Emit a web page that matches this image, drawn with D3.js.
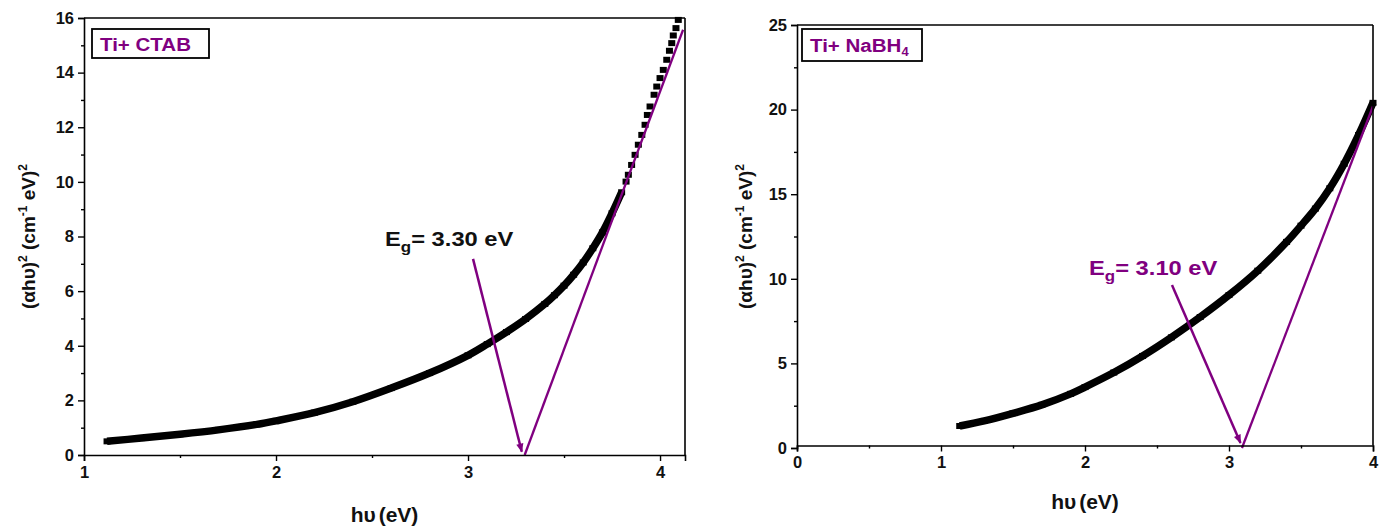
<!DOCTYPE html>
<html><head><meta charset="utf-8">
<script src="https://cdn.jsdelivr.net/npm/d3@7"></script>
<style>
body{margin:0;background:#fff;}
svg text{font-family:"Liberation Sans",Arial,sans-serif;font-weight:bold;}
</style></head>
<body>
<svg id="chart" width="1393" height="531"></svg>
<script>
// ---- data ----
const ctabX = [1.12,1.3,1.5,1.7,1.9,2.0,2.2,2.4,2.6,2.8,3.0,3.1,3.2,3.3,3.4,3.45,3.5,3.55,3.6,3.65,3.7,3.75,3.8,3.823,3.835,3.852,3.870,3.887,3.905,3.922,3.934,3.948,3.969,3.983,4.0,4.017,4.035,4.049,4.061,4.069,4.083,4.095];
const ctabY = [0.50,0.62,0.76,0.92,1.12,1.25,1.55,1.95,2.45,3.0,3.65,4.06,4.5,4.98,5.53,5.85,6.2,6.6,7.05,7.57,8.15,8.85,9.62,10.01,10.26,10.62,10.99,11.36,11.72,12.09,12.45,12.76,13.19,13.49,13.80,14.10,14.47,14.80,15.08,15.36,15.63,15.93];
const nabhX = [1.13,1.3,1.5,1.7,1.9,2.0,2.2,2.4,2.6,2.8,3.0,3.2,3.4,3.5,3.6,3.7,3.8,3.9,4.0];
const nabhY = [1.3,1.6,2.05,2.55,3.2,3.6,4.46,5.44,6.54,7.74,9.04,10.48,12.18,13.14,14.15,15.35,16.8,18.5,20.4];
const ctabTangentX = [3.295,4.12];
const ctabTangentY = [0,15.57];
const nabhTangentX = [3.09,4.0];
const nabhTangentY = [0,20.2];
const ctabArrowX = [3.026,3.28];
const ctabArrowY = [7.18,0.12];
const nabhArrowX = [2.604,3.08];
const nabhArrowY = [9.63,0.3];
const ctabXTicks = [1,2,3,4];
const ctabXMinor = [1.5,2.5,3.5];
const ctabYTicks = [0,2,4,6,8,10,12,14,16];
const ctabYMinor = [1,3,5,7,9,11,13,15];
const nabhXTicks = [0,1,2,3,4];
const nabhXMinor = [0.5,1.5,2.5,3.5];
const nabhYTicks = [0,5,10,15,20,25];
const nabhYMinor = [2.5,7.5,12.5,17.5,22.5];
const labels = {ctab:"Ti+ CTAB", nabh:"Ti+ NaBH", egCtab:"3.30 eV", egNabh:"3.10 eV"};

const PURPLE = "#800080";
const svg = d3.select("#chart");
const defs = svg.append("defs");
defs.append("marker").attr("id","arr").attr("viewBox","0 0 10 10")
  .attr("refX",9).attr("refY",5).attr("markerWidth",11).attr("markerHeight",9)
  .attr("markerUnits","userSpaceOnUse").attr("orient","auto")
  .append("path").attr("d","M0,1 L10,5 L0,9 z").attr("fill",PURPLE);

function panel(cfg){
  const {x,y,xt,xm,yt,ym,xs,ys,tx,ty,ax,ay,legend,sub,eg,egColor,egPos,ylabX,xlabY,xAxisY,lineMax} = cfg;
  const g = svg.append("g");
  const [x0,x1] = x.range(), [y0,y1] = y.range();
  const axY = xAxisY!==undefined ? xAxisY : y0;
  // data line + squares
  const pts = xs.map((d,i)=>[d,ys[i]]);
  g.append("path").datum(pts.filter(d=>d[1]<=lineMax)).attr("fill","none").attr("stroke","#000")
    .attr("stroke-width",7.5).attr("stroke-linejoin","round")
    .attr("d",d3.line().x(d=>x(d[0])).y(d=>y(d[1])).curve(d3.curveCatmullRom));
  g.selectAll("rect.pt").data(pts).join("rect").attr("class","pt")
    .attr("x",d=>x(d[0])-3.5).attr("y",d=>y(d[1])-3).attr("width",7).attr("height",6).attr("fill","#000");
  // tangent
  g.append("line").attr("x1",x(tx[0])).attr("y1",y(ty[0])).attr("x2",x(tx[1])).attr("y2",y(ty[1]))
    .attr("stroke",PURPLE).attr("stroke-width",2.3);
  // arrow
  g.append("line").attr("x1",x(ax[0])).attr("y1",y(ay[0])).attr("x2",x(ax[1])).attr("y2",y(ay[1]))
    .attr("stroke",PURPLE).attr("stroke-width",2.5).attr("marker-end","url(#arr)");
  // axes
  g.append("g").attr("transform",`translate(0,${axY})`)
    .call(d3.axisBottom(x).tickValues(xt).tickSize(6).tickPadding(5).tickFormat(d3.format("d")));
  g.append("g").attr("transform",`translate(0,${axY})`)
    .call(d3.axisBottom(x).tickValues(xm).tickSize(3).tickFormat("")).select(".domain").remove();
  g.append("g").attr("transform",`translate(${x0},0)`)
    .call(d3.axisLeft(y).tickValues(yt).tickSize(6).tickPadding(4).tickFormat(d3.format("d")));
  g.append("g").attr("transform",`translate(${x0},0)`)
    .call(d3.axisLeft(y).tickValues(ym).tickSize(3).tickFormat("")).select(".domain").remove();
  g.selectAll(".tick text").attr("font-size",16.5).attr("font-family","Liberation Sans, Arial").attr("font-weight","bold").attr("fill","#111");
  g.selectAll(".tick line").attr("stroke-width",1.4);
  g.selectAll(".domain").attr("stroke-width",1.6);
  // frame top/right
  g.append("line").attr("x1",x0).attr("x2",x1).attr("y1",y1).attr("y2",y1).attr("stroke","#000").attr("stroke-width",1.6);
  g.append("line").attr("x1",x1).attr("x2",x1).attr("y1",y1).attr("y2",axY).attr("stroke","#000").attr("stroke-width",1.6);
  // legend box
  const lb = legend.box;
  g.append("rect").attr("x",lb[0]).attr("y",lb[1]).attr("width",lb[2]).attr("height",lb[3])
    .attr("fill","#fff").attr("stroke","#000").attr("stroke-width",1.8);
  const lt = g.append("text").attr("transform",`translate(${lb[0]+8},${lb[1]+lb[3]/2+7})scale(1.08,1)`)
    .attr("font-size",19).attr("fill",PURPLE).text(legend.text);
  if(sub) lt.append("tspan").attr("font-size",12).attr("dy",4).text(sub);
  // Eg label
  const et = g.append("text").attr("transform",`translate(${egPos[0]},${egPos[1]})scale(1.13,1)`)
    .attr("font-size",21).attr("fill",egColor);
  et.append("tspan").text("E");
  et.append("tspan").attr("font-size",15).attr("dy",6).text("g");
  et.append("tspan").attr("dy",-6).text("= "+eg);
  // axis labels
  const xl = g.append("text").attr("x",(x0+x1)/2).attr("y",xlabY).attr("text-anchor","middle").attr("font-size",21).attr("fill","#111");
  xl.append("tspan").text("hυ");
  xl.append("tspan").attr("dx",3).text("(eV)");
  const yl = g.append("text").attr("transform",`translate(${ylabX},${(y0+y1)/2})rotate(-90)`)
    .attr("text-anchor","middle").attr("font-size",19).attr("fill","#111");
  yl.append("tspan").text("(αhυ)");
  yl.append("tspan").attr("font-size",12).attr("dy",-8).text("2");
  yl.append("tspan").attr("dy",8).text(" (cm");
  yl.append("tspan").attr("font-size",12).attr("dy",-8).text("-1");
  yl.append("tspan").attr("dy",8).text(" eV)");
  yl.append("tspan").attr("font-size",12).attr("dy",-8).text("2");
}

panel({
  x:d3.scaleLinear().domain([1,4.13]).range([84,685]),
  y:d3.scaleLinear().domain([0,16]).range([455,18]),
  xt:ctabXTicks,xm:ctabXMinor,yt:ctabYTicks,ym:ctabYMinor,
  xs:ctabX,ys:ctabY,tx:ctabTangentX,ty:ctabTangentY,ax:ctabArrowX,ay:ctabArrowY,
  legend:{box:[92,29,117,29],text:labels.ctab},sub:null,lineMax:9.7,
  eg:labels.egCtab,egColor:"#111",egPos:[385,246],ylabX:35,xlabY:522
});
panel({
  x:d3.scaleLinear().domain([0,4]).range([797,1373]),
  y:d3.scaleLinear().domain([0,25]).range([448,25]),
  xt:nabhXTicks,xm:nabhXMinor,yt:nabhYTicks,ym:nabhYMinor,
  xs:nabhX,ys:nabhY,tx:nabhTangentX,ty:nabhTangentY,ax:nabhArrowX,ay:nabhArrowY,
  legend:{box:[802,29,120,32],text:labels.nabh},sub:"4",lineMax:99,
  eg:labels.egNabh,egColor:PURPLE,egPos:[1089,275],ylabX:752,xlabY:509,xAxisY:445.5
});
</script>
</body></html>
